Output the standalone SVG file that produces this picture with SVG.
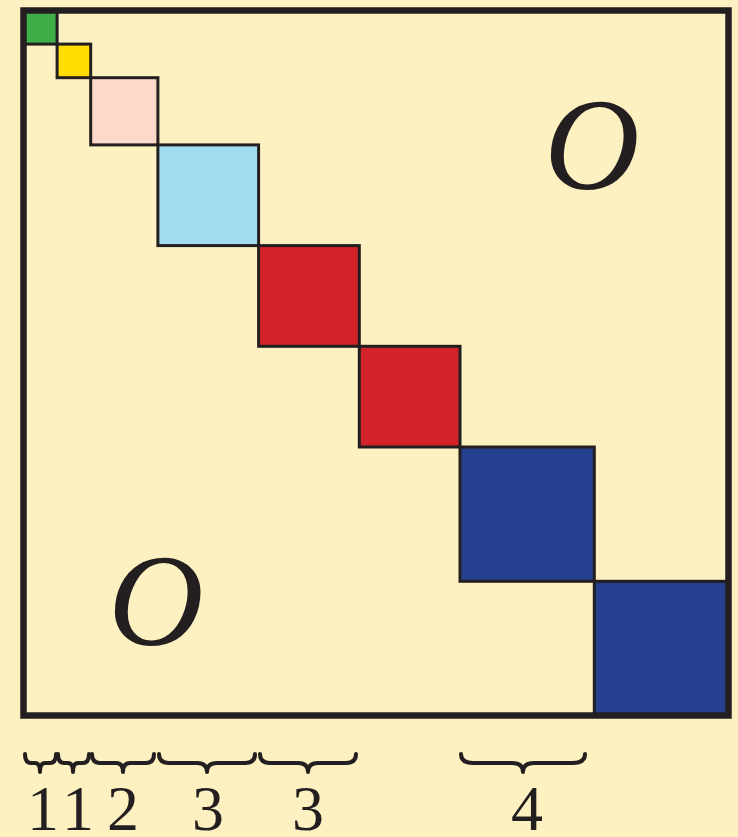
<svg xmlns="http://www.w3.org/2000/svg" width="738" height="837" viewBox="0 0 738 837">
<style>
.blk{stroke:#231F20;stroke-width:3}
.brace{fill:none;stroke:#231F20;stroke-width:4;stroke-linejoin:round;stroke-linecap:round}
.num{font-family:"Liberation Serif",serif;font-size:64px;fill:#231F20;text-anchor:middle}
.zero{font-family:"Liberation Serif",serif;font-style:italic;font-size:132px;fill:#231F20;text-anchor:middle}
</style>
<rect x="0" y="0" width="738" height="837" fill="#FEF1C1"/>
<g id="frame"><rect x="23.5" y="10.5" width="705" height="705" fill="#FEF1C1"/></g>
<g id="block-green"><rect class="blk" x="23.5" y="10.5" width="33.6" height="33.6" fill="#3FAE49"/></g>
<g id="block-yellow"><rect class="blk" x="57.1" y="44.1" width="33.6" height="33.6" fill="#FFDD00"/></g>
<g id="block-pink"><rect class="blk" x="90.7" y="77.7" width="67.2" height="67.2" fill="#FDD9C9"/></g>
<g id="block-lightblue"><rect class="blk" x="157.9" y="144.9" width="100.7" height="100.7" fill="#A4DCEF"/></g>
<g id="block-red1"><rect class="blk" x="258.6" y="245.6" width="100.7" height="100.7" fill="#D2232A"/></g>
<g id="block-red2"><rect class="blk" x="359.3" y="346.3" width="100.7" height="100.7" fill="#D2232A"/></g>
<g id="block-blue1"><rect class="blk" x="460" y="447" width="134.3" height="134.3" fill="#25408F"/></g>
<g id="block-blue2"><rect class="blk" x="594.3" y="581.3" width="134.2" height="134.2" fill="#25408F"/></g>
<g id="frame-border"><rect x="23.5" y="10.5" width="705" height="705" fill="none" stroke="#231F20" stroke-width="6.5"/></g>
<g id="zero-top"><text class="zero" x="592" y="189">O</text></g>
<g id="zero-bottom"><text class="zero" x="156" y="645">O</text></g>
<g id="braces">
<path class="brace" d="M25,754 q0,9 6,9 h4 q5,0 5,9 q0,-9 5,-9 h5 q6,0 6,-9"/>
<path class="brace" d="M58,754 q0,9 6,9 h4 q5,0 5,9 q0,-9 5,-9 h5 q6,0 6,-9"/>
<path class="brace" d="M92,754 q0,9 8,9 h16 q7,0 7,9 q0,-9 7,-9 h16 q8,0 8,-9"/>
<path class="brace" d="M159,754 q0,9 10,9 h28 q10,0 10,9 q0,-9 10,-9 h28 q10,0 10,-9"/>
<path class="brace" d="M260,754 q0,9 10,9 h28 q10,0 10,9 q0,-9 10,-9 h28 q10,0 10,-9"/>
<path class="brace" d="M461,754 q0,9 12,9 h39 q11,0 11,9 q0,-9 11,-9 h39 q12,0 12,-9"/>
</g>
<g id="labels">
<text class="num" x="43" y="830">1</text>
<text class="num" x="78" y="830">1</text>
<text class="num" x="123" y="830">2</text>
<text class="num" x="208" y="830">3</text>
<text class="num" x="308" y="830">3</text>
<text class="num" x="527" y="830">4</text>
</g>
</svg>
